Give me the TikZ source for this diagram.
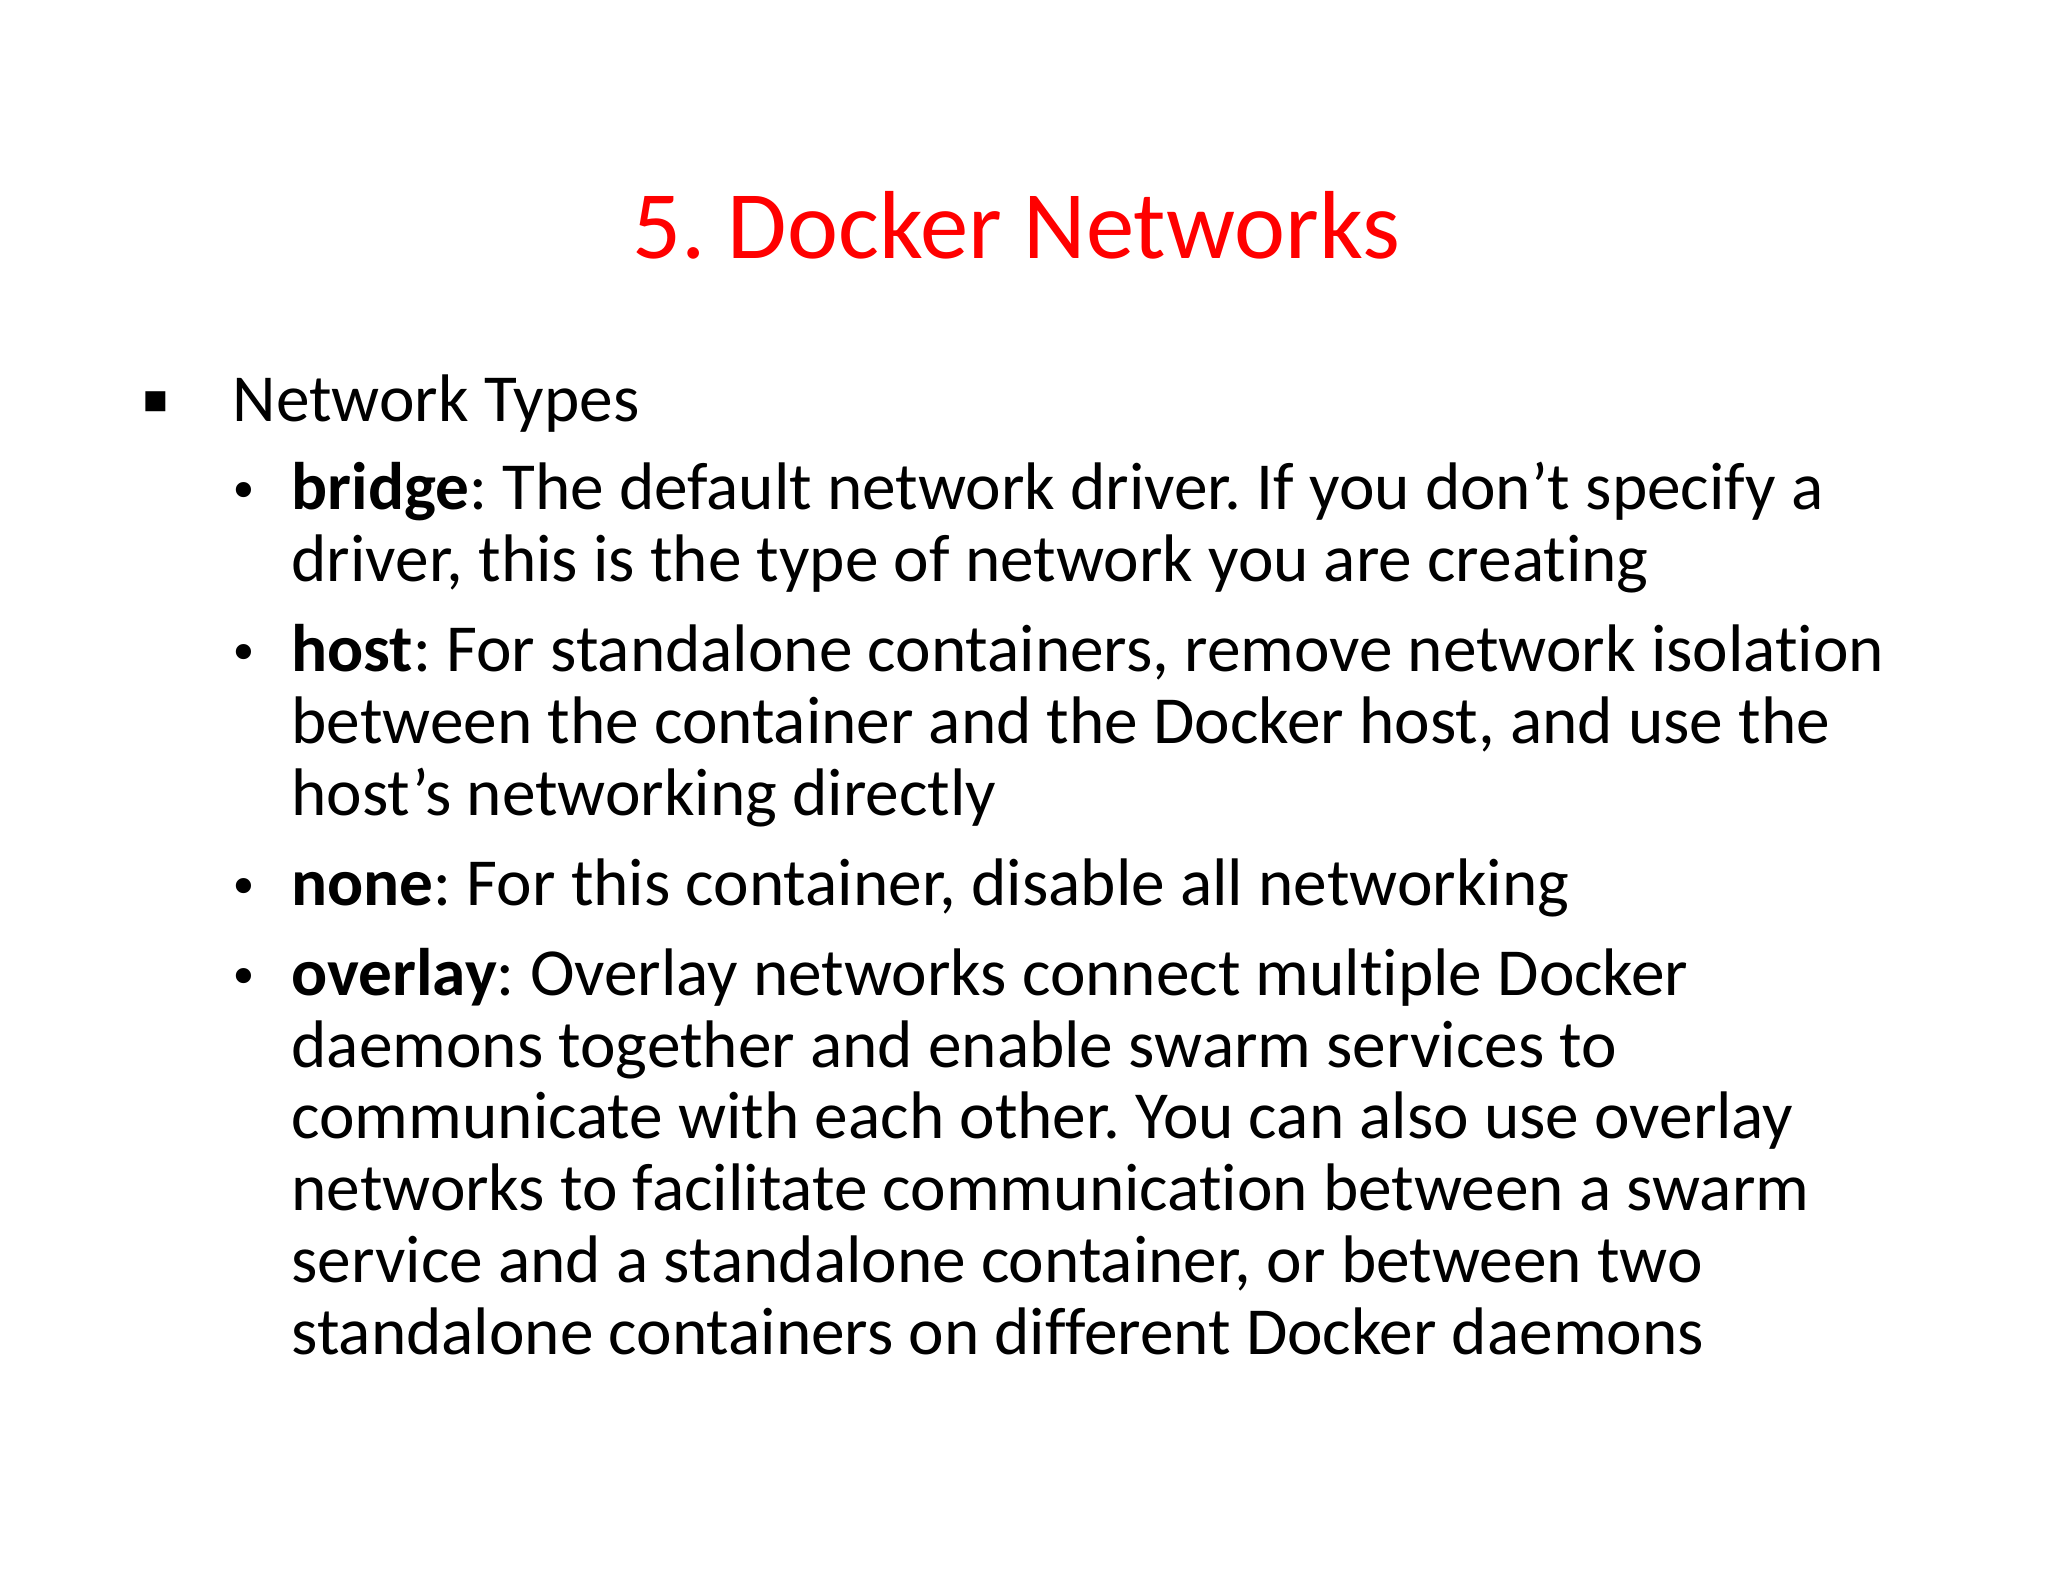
\documentclass[tikz,border=0pt]{standalone}
\usepackage{fontspec}
\setmainfont[Ligatures=NoCommon]{Carlito}
\newfontfamily\djv{DejaVu Sans}
\frenchspacing
\begin{document}
\begin{tikzpicture}[x=1pt,y=-1pt,
  ln/.style={anchor=base west,inner sep=0pt,font=\fontsize{51.5}{55}\selectfont}]
\useasboundingbox[fill=white] (0,0) rectangle (1568,1211);
\node[anchor=base,inner sep=0pt,text=red,font=\fontsize{74}{80}\selectfont] (title) at (778,198) {5. Docker Networks};
\node[anchor=base,inner sep=0pt,font=\fontsize{20}{20}\selectfont\djv] (sq) at (119,313) {■};
\node[ln] (nt) at (178,323) {Network Types};
\foreach \y/\n in {390/b1,514/b2,693/b3,762/b4}{
  \node[anchor=base,inner sep=0pt,font=\fontsize{40}{55}\selectfont\djv] (\n) at (187,\y) {•};}
\node[ln] (l1) at (223,390) {\textbf{bridge}: The default network driver. If you don’t specify a};
\node[ln] (l2) at (223,445) {driver, this is the type of network you are creating};
\node[ln] (l3) at (223,514) {\textbf{host}: For standalone containers, remove network isolation};
\node[ln] (l4) at (223,569) {between the container and the Docker host, and use the};
\node[ln] (l5) at (223,624) {host’s networking directly};
\node[ln] (l6) at (223,693) {\textbf{none}: For this container, disable all networking};
\node[ln] (l7) at (223,762) {\textbf{overlay}: Overlay networks connect multiple Docker};
\node[ln] (l8) at (223,817) {daemons together and enable swarm services to};
\node[ln] (l9) at (223,872) {communicate with each other. You can also use overlay};
\node[ln] (l10) at (223,927) {networks to facilitate communication between a swarm};
\node[ln] (l11) at (223,982) {service and a standalone container, or between two};
\node[ln] (l12) at (223,1037) {standalone containers on different Docker daemons};
\end{tikzpicture}
\end{document}
